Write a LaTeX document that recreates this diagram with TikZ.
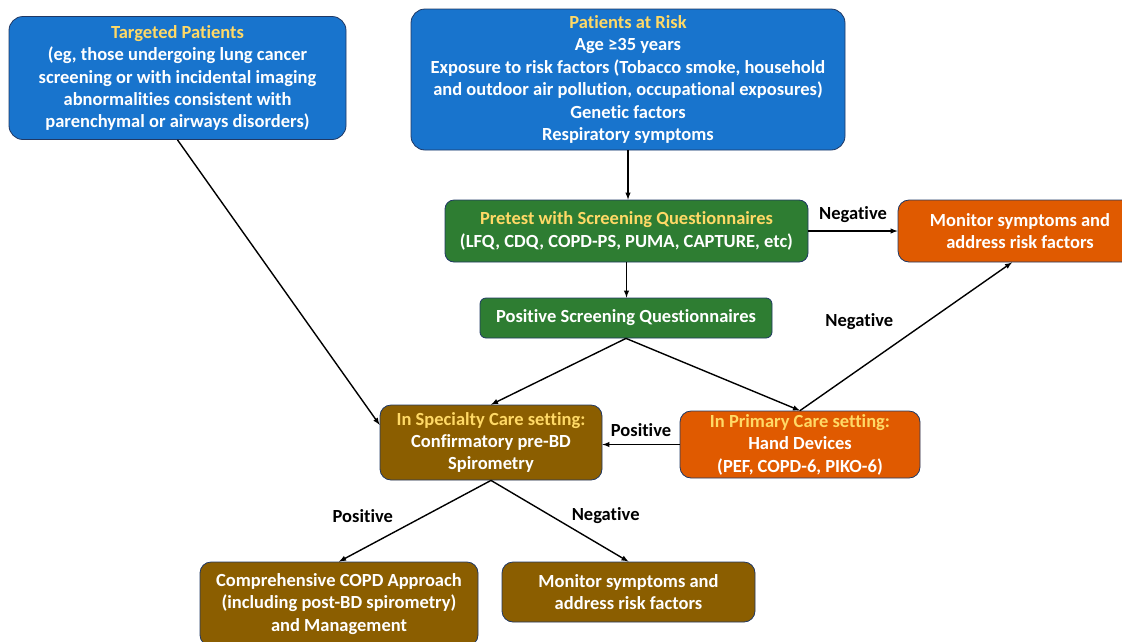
\documentclass[tikz,border=0pt]{standalone}
\usepackage{fontspec}
\setmainfont{Carlito}[Ligatures=NoCommon]
\usetikzlibrary{positioning}
\definecolor{riskblue}{HTML}{1874CD}
\definecolor{qgreen}{HTML}{2E7D32}
\definecolor{careorange}{HTML}{E05A00}
\definecolor{carebrown}{HTML}{8B5E00}
\definecolor{headyellow}{HTML}{FFD966}
\definecolor{boxline}{HTML}{203864}
\newcommand{\headtxt}[1]{\textcolor{headyellow}{#1}}
\tikzset{ %line width = 0.8pt,
  >=latex,
  box/.style ={rectangle,rounded corners=14pt,draw=boxline,line width=0.8pt,
    text=white,align=center,inner sep=3pt,
    font=\bfseries\fontsize{18.5}{22.4}\selectfont},
  bluebox/.style ={box,fill=riskblue},
  greenbox/.style ={box,fill=qgreen,rounded corners=9pt},
  orangebox/.style ={box,fill=careorange,rounded corners=11pt},
  brownbox/.style ={box,fill=carebrown,rounded corners=11pt},
  {dedge/.style} ={draw,->,line width=1.4pt},
  {lbl/.style} ={font=\bfseries\fontsize{18.5}{20}\selectfont,text=black},
 }
\begin{document}
\begin{tikzpicture}[x=1pt,y=-1pt]
        \useasboundingbox (0,0) rectangle (1122,641);
        \node[bluebox,minimum width=337pt,minimum height=123pt] (tp) at (177.5,78)
                {\headtxt{Targeted Patients}\\(eg, those undergoing lung cancer\\
                screening or with incidental imaging\\abnormalities consistent with\\
                parenchymal or airways disorders)};
        \node[bluebox,minimum width=434pt,minimum height=141pt] (pr) at (628,79.5)
                {\headtxt{Patients at Risk}\\Age ≥35 years\\
                Exposure to risk factors (Tobacco smoke, household\\
                and outdoor air pollution, occupational exposures)\\
                Genetic factors\\Respiratory symptoms};
        \node[greenbox,minimum width=363pt,minimum height=62pt] (pt) at (626.5,231)
                {\headtxt{Pretest with Screening Questionnaires}\\
                (LFQ, CDQ, COPD-PS, PUMA, CAPTURE, etc)};
        \node[orangebox,minimum width=244pt,minimum height=62pt] (mo) at (1020,231)
                {Monitor symptoms and\\address risk factors};
        \node[greenbox,minimum width=292pt,minimum height=40pt,rounded corners=6pt] (ps)
                at (626,318) {Positive Screening Questionnaires};
        \node[brownbox,minimum width=222pt,minimum height=75pt] (sc) at (491,442.5)
                {\headtxt{In Specialty Care setting:}\\Confirmatory pre-BD\\Spirometry};
        \node[orangebox,minimum width=240pt,minimum height=67pt] (pc) at (800,444.5)
                {\headtxt{In Primary Care setting:}\\Hand Devices\\(PEF, COPD-6, PIKO-6)};
        \node[brownbox,minimum width=278pt,minimum height=84pt] (ca) at (339,604)
                {Comprehensive COPD Approach\\(including post-BD spirometry)\\and Management};
        \node[brownbox,minimum width=253pt,minimum height=60pt] (mb) at (628.5,592)
                {Monitor symptoms and\\address risk factors};
        %\node (h) [below=of ca] {};
        \path (tp.south) edge[dedge] (sc.171);
        \path (pr.south) edge[dedge] (pr.south |- pt.north);
        \path (pt.south) edge[dedge] (pt.south |- ps.north);
        \path (pt.east) edge[dedge] node[lbl,above=4pt] {Negative} (mo.west);
        \path (ps.south) edge[dedge] (sc.north)
                edge[dedge] (pc.north);
        \path (pc.north) edge[dedge] node[lbl,pos=0.6,left=30pt] {Negative}
                ([xshift=-8pt]mo.south);
        \path (pc.west) edge[dedge] node[lbl,above=4pt] {Positive} (pc.west -| sc.east);
        \path (sc.south) edge[dedge] node[lbl,left=18pt,yshift=5pt] {Positive} (ca.north)
                edge[dedge] node[lbl,right=8pt,yshift=5pt] {Negative} (mb.north);
\end{tikzpicture}
\end{document}
